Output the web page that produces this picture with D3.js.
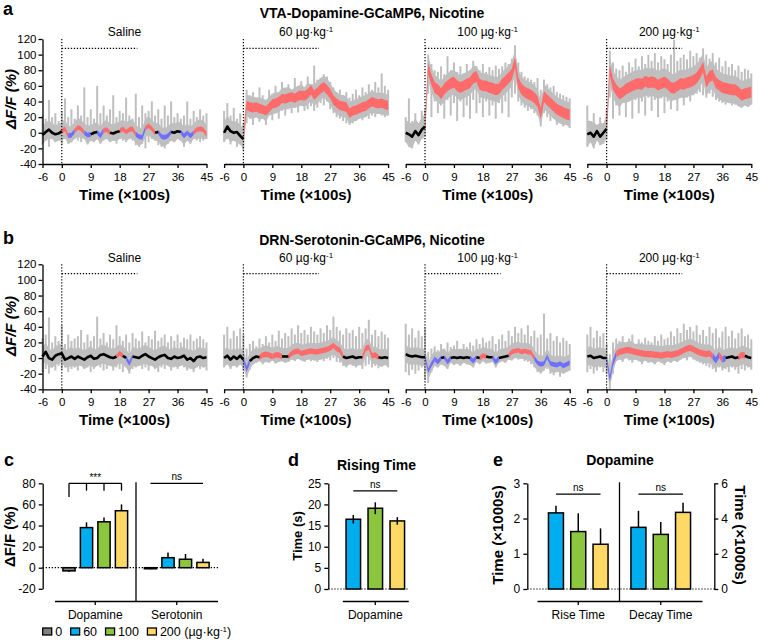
<!DOCTYPE html>
<html><head><meta charset="utf-8">
<script src="https://cdn.jsdelivr.net/npm/d3@7"></script>
<style>
body{margin:0;background:#fff;}
svg{display:block;font-family:"Liberation Sans",Arial,Helvetica,sans-serif;}
</style></head><body>
<svg id="fig" width="760" height="640"></svg>
<script>
// ---------------- DATA ----------------
const traceTimes = d3.range(-6, 46);            // sample times, ×100 s
const doseLabels = ["Saline", "60", "100", "200"];
const timeTicks = [-6, 0, 9, 18, 27, 36, 45];
const dffTicks = [-40, -20, 0, 20, 40, 60, 80, 100, 120];

// VTA dopamine, saline
const daSalineMean = [-3,1,4,0,-2,-1,2,5,-4,-3, 2,7,5,0,-3,-2,0,1,-4,3, 4,0,-1,1,2,5,1,4,5,-2, -5,-6,6,9,5,0,1,-5,-6,-4, 1,0,2,1,-4,0,-4,0,4,5, 4,-2];
const daSalineHi = [22,18,42,20,25,15,28,44,20,30, 18,35,22,58,20,30,18,60,25,35, 22,30,48,20,28,25,45,22,18,50, 20,35,25,28,40,22,30,18,35,22, 40,20,25,18,22,40,18,28,20,30, 22,25];
const daSalineLo = [-15,-10,-18,-8,-12,-10,-15,-8,-14,-12, -8,-10,-12,-8,-15,-10,-12,-8,-14,-10, -8,-12,-10,-14,-8,-10,-12,-8,-10,-16, -18,-14,-20,-12,-8,-10,-16,-18,-20,-14, -10,-12,-8,-10,-18,-10,-14,-8,-10,-12, -10,-8];
const daSalineSig = "kkkkkkkrbb" + "krrkbkkkbk" + "rkkkkrkrrk" + "bbrrrkkbbb" + "kkkkbkbkrr" + "rk";
// VTA dopamine, 60
const da60Mean = [0,8,2,0,1,-4,-8,35,33,32, 33,31,30,28,32,37,38,40,44,43, 45,46,44,47,48,47,50,55,48,52, 56,59,55,50,42,38,35,34,33,25, 28,29,31,33,34,37,40,38,37,38, 36,35];
const da60Hi = [28,38,22,32,18,25,12,55,48,52, 45,58,48,42,55,50,60,52,65,58, 62,55,70,60,66,58,72,62,86,68, 70,75,72,65,58,52,55,48,52,45, 50,55,48,58,52,62,55,65,58,76, 60,55];
const da60Lo = [-12,-8,-15,-10,-18,-15,-22,12,18,10, 20,14,18,10,22,16,25,18,28,22, 30,25,32,26,35,28,30,34,28,32, 38,35,40,30,25,20,18,15,12,10, 12,15,18,16,20,18,22,20,24,22, 20,22];
const da60Sig = "kkkkkkkrrr" + "rrrrrrrrrr" + "rrrrrrrrrr" + "rrrrrrrrrr" + "rrrrrrrrrr" + "rr";
// VTA dopamine, 100
const da100Mean = [0,-2,-5,2,-3,4,8,82,68,58, 55,50,56,60,63,65,60,58,60,62, 64,70,72,62,60,60,58,57,55,56, 62,66,70,75,90,64,56,52,50,48, 45,40,25,46,42,38,34,30,28,26, 24,23];
const da100Hi = [20,44,15,25,12,28,30,100,88,80, 78,85,75,98,80,90,78,85,76,88, 80,92,85,80,88,78,84,80,86,82, 85,90,88,95,112,90,78,72,70,68, 65,70,55,68,62,58,60,52,50,48, 46,44];
const da100Lo = [-12,-18,-20,-10,-15,-8,-5,50,20,40, 25,35,18,42,22,38,15,40,20,35, 18,42,25,38,20,40,22,35,18,38, 25,40,20,45,50,40,35,32,28,30, 25,22,8,25,20,15,18,10,12,8, 10,6];
const da100Sig = da60Sig;
// VTA dopamine, 200
const da200Mean = [-2,0,-5,2,-5,0,5,80,62,55, 50,52,56,58,60,62,63,62,66,64, 65,64,61,63,65,62,58,57,60,63, 62,64,65,67,70,76,84,65,72,74, 64,61,58,57,56,55,55,52,48,50, 51,52];
const da200Hi = [35,15,25,10,20,12,30,105,90,82, 80,86,78,90,84,95,85,98,88,100, 92,102,90,98,94,88,100,119,92,96, 100,94,105,98,102,96,108,100,95,102, 90,96,85,92,84,88,80,86,78,82, 80,76];
const da200Lo = [-18,-12,-20,-10,-16,-14,-8,45,18,35, 22,38,20,40,18,42,25,40,22,45, 28,42,20,44,25,40,30,42,28,45, 35,45,40,48,50,52,48,45,50,46, 42,40,38,36,38,35,36,34,32,35, 33,36];
const da200Sig = da60Sig;
const daSem = [3, 6, 7, 7];
const daCore = [12, 14, 16, 18];

// DRN serotonin, saline
const htSalineMean = [2,8,0,-2,3,5,6,-2,0,2, -1,2,0,-2,1,3,-1,0,4,5, 3,1,0,2,6,3,0,-7,2,1, 0,3,5,2,0,-2,1,3,4,0, -1,2,0,1,3,-2,0,-4,1,2, 0,1];
const htSalineHi = [25,30,52,20,28,22,42,18,30,22, 25,28,36,20,30,22,28,53,25,32, 20,30,24,42,28,22,30,20,32,25, 22,34,20,28,24,35,22,26,30,20, 28,22,30,20,26,24,30,22,25,28, 24,20];
const htSalineLo = [-18,-14,-20,-12,-16,-10,-15,-12,-18,-14, -12,-16,-10,-14,-12,-18,-14,-10,-12,-16, -14,-10,-16,-12,-14,-18,-12,-20,-14,-12, -10,-14,-12,-16,-10,-14,-18,-12,-14,-10, -16,-12,-14,-10,-12,-16,-14,-18,-12,-14, -12,-16];
const htSalineSig = "kkkkkkkkkk" + "kkkkkkkkkk" + "kkkkrkkbkk" + "kkkkkkkkkk" + "kkkkkkkkkk" + "kk";
// DRN serotonin, 60
const ht60Mean = [0,3,-2,2,-1,3,-2,-14,-4,0, 2,1,4,5,4,2,4,4,2,2, 2,6,8,9,6,7,8,9,8,8, 9,10,11,13,16,12,10,2,0,1, 2,0,1,1,12,14,3,4,1,0, 1,0];
const ht60Hi = [30,40,25,35,28,38,30,12,18,22, 15,25,18,28,20,30,22,35,25,32, 28,38,30,42,32,36,30,40,34,30, 38,32,42,36,53,40,35,30,38,32, 36,28,40,32,38,49,30,36,28,34, 30,26];
const ht60Lo = [-12,-8,-14,-10,-12,-8,-15,-25,-15,-8, -6,-4,-8,-5,-6,-3,-7,-5,-4,-6, -5,-2,-4,-1,-3,-5,-2,-4,-3,-5, -2,-4,-1,-3,0,-5,-6,-10,-12,-8, -10,-12,-9,-14,-10,-8,-12,-10,-13,-11, -9,-12];
const ht60Sig = "kkkkkkkbkk" + "kkrrrkrrkk" + "krrrrrrrrr" + "rrrrrrrkkk" + "kkkkrrkrkk" + "kk";
// DRN serotonin, 100
const ht100Mean = [5,3,2,3,2,1,1,-16,-8,-1, -5,0,1,-5,0,1,0,1,0,1, 0,-4,1,0,3,2,1,1,-5,0, 1,2,3,8,9,10,8,9,8,7, 0,-6,-8,-7,2,-7,-8,-9,-7,-10, -8,-6];
const ht100Hi = [44,30,38,26,35,28,40,8,12,15, 10,18,12,20,14,16,22,12,18,14, 20,16,24,18,26,20,22,28,18,24, 30,22,35,28,40,32,38,30,42,28, 35,26,30,57,25,32,22,28,20,26, 22,18];
const ht100Lo = [-18,-22,-15,-20,-16,-12,-28,-32,-18,-10, -12,-8,-10,-14,-6,-9,-7,-10,-6,-8, -9,-12,-5,-8,-4,-7,-6,-5,-12,-6, -4,-6,-2,-3,0,-2,-1,-4,-5,-8, -12,-18,-20,-16,-14,-20,-22,-18,-24,-20, -18,-16];
const ht100Sig = "kkkkkkkbbk" + "bkkbkkkkkk" + "kbkkrkkkbk" + "kkkrrrrrrr" + "kbbbkbbbbb" + "bb";
// DRN serotonin, 200
const ht200Mean = [2,3,0,1,2,0,0,-26,-6,5, 8,9,10,10,9,8,7,6,5,5, 5,4,4,3,4,5,4,5,6,8, 10,12,13,11,9,7,6,5,6,2, -3,4,-2,0,1,2,0,1,4,3, 1,0];
const ht200Hi = [30,40,26,35,28,32,18,5,20,25, 22,28,20,25,30,18,24,20,26,22, 20,28,22,30,24,26,34,28,38,32, 44,36,40,34,42,30,36,28,40,32, 38,26,34,40,28,35,25,32,38,28, 30,24];
const ht200Lo = [-18,-14,-20,-16,-12,-18,-20,-40,-20,-4, -2,-5,0,-3,-6,-2,-4,-8,-3,-6, -5,-8,-4,-6,-9,-4,-6,-3,-5,-2, 0,-3,2,-2,-4,-6,-8,-10,-12,-14, -18,-12,-16,-14,-18,-12,-15,-20,-14,-16, -12,-15];
const ht200Sig = "kkkkkkkbbr" + "rrrrrrrrrr" + "rrrrrrrrrr" + "rrrrrrrrrk" + "brbkkkkkrk" + "kk";
const htSem = [3, 3.5, 3, 4];
const htCore = [12, 11, 11, 12];

// Panel c
const doses = ["0", "60", "100", "200"];
const cGroups = ["Dopamine", "Serotonin"];
const cDopamine = [-3, 38, 43.5, 54];
const cDopamineErr = [1, 5, 4.2, 6];
const cSerotonin = [-1, 9.5, 8, 5];
const cSerotoninErr = [0.5, 5, 5, 3.5];
const cTicks = [-20, 0, 20, 40, 60, 80];
// Panel d
const dDoses = ["60", "100", "200"];
const dRise = [16.5, 19.1, 16.1];
const dRiseErr = [1.0, 1.4, 0.9];
const dTicks = [0, 5, 10, 15, 20, 25];
// Panel e
const eGroups = ["Rise Time", "Decay Time"];
const eRise = [2.16, 1.63, 1.27];
const eRiseErr = [0.2, 0.52, 0.45];
const eDecay = [3.5, 3.1, 4.35];
const eDecayErr = [0.94, 0.7, 0.55];
const eLeftTicks = [0, 1, 2, 3];
const eRightTicks = [0, 2, 4, 6];

// ---------------- DRAWING ----------------
const svg = d3.select("#fig");
const GRAYT = "#bfbfbf", RED = "#ff6b6b", BLUE = "#6e6eff";
const doseFill = {"0": "#808080", "60": "#00aeef", "100": "#8cc63f", "200": "#ffd966"};
const fmt = d => String(d);

function styleAxis(g, fs) {
  g.selectAll(".domain").attr("stroke", "#000").attr("stroke-width", 1.3);
  g.selectAll(".tick line").attr("stroke", "#000").attr("stroke-width", 1.3);
  g.selectAll(".tick text").attr("fill", "#000").attr("font-size", fs)
    .attr("font-family", '"Liberation Sans",Arial,sans-serif');
}
function text(x, y, s, o = {}) {
  const t = svg.append("text").attr("x", x).attr("y", y).text(s)
    .attr("font-size", o.size || 12).attr("text-anchor", o.anchor || "middle")
    .attr("font-weight", o.bold ? "bold" : "normal").attr("fill", "#000");
  if (o.italic) t.attr("font-style", "italic");
  if (o.rotate) t.attr("transform", `rotate(${o.rotate},${x},${y})`);
  return t;
}
function supTail(t, size) {
  t.append("tspan").attr("dy", -4).attr("font-size", size).text("-1");
}

const rows = [
  {top: 39, bottom: 164, title: "VTA-Dopamine-GCaMP6, Nicotine", titleY: 18, subY: 36, xlabY: 200,
   letter: "a", letterY: 15, ylabY: 99, sem: daSem, core: daCore,
   data: [
     {mean: daSalineMean, hi: daSalineHi, lo: daSalineLo, sig: daSalineSig},
     {mean: da60Mean, hi: da60Hi, lo: da60Lo, sig: da60Sig},
     {mean: da100Mean, hi: da100Hi, lo: da100Lo, sig: da100Sig},
     {mean: da200Mean, hi: da200Hi, lo: da200Lo, sig: da200Sig}]},
  {top: 264.3, bottom: 389.3, title: "DRN-Serotonin-GCaMP6, Nicotine", titleY: 245, subY: 261.5, xlabY: 425,
   letter: "b", letterY: 244, ylabY: 326, sem: htSem, core: htCore,
   data: [
     {mean: htSalineMean, hi: htSalineHi, lo: htSalineLo, sig: htSalineSig},
     {mean: ht60Mean, hi: ht60Hi, lo: ht60Lo, sig: ht60Sig},
     {mean: ht100Mean, hi: ht100Hi, lo: ht100Lo, sig: ht100Sig},
     {mean: ht200Mean, hi: ht200Hi, lo: ht200Lo, sig: ht200Sig}]}
];

rows.forEach(row => {
  text(3, row.letterY, row.letter, {size: 18, bold: true, anchor: "start"});
  text(372, row.titleY, row.title, {size: 14, bold: true});
  text(15.5, row.ylabY, "ΔF/F (%)", {size: 15, bold: true, italic: true, rotate: -90});
  row.data.forEach((s, k) => {
    const x0 = 42.5 + k * 181.6;
    const x = d3.scaleLinear().domain([-6, 45]).range([x0, x0 + 164]);
    const y = d3.scaleLinear().domain([-40, 120]).range([row.bottom, row.top]);
    const sem = row.sem[k], core = row.core[k];
    const n = s.mean.length;
    const g = svg.append("g");
    // gray: solid core band + spikes to the envelope
    g.append("path").datum(d3.range(n))
      .attr("d", d3.area().x(i => x(traceTimes[i]))
        .y0(i => y(Math.max(s.lo[i], s.mean[i] - core)))
        .y1(i => y(Math.min(s.hi[i], s.mean[i] + core))))
      .attr("fill", GRAYT);
    g.append("g").selectAll("line").data(d3.range(n)).join("line")
      .attr("x1", i => x(traceTimes[i])).attr("x2", i => x(traceTimes[i]))
      .attr("y1", i => y(s.lo[i])).attr("y2", i => y(s.hi[i]))
      .attr("stroke", GRAYT).attr("stroke-width", 2);
    const runs = [];
    let st = 0;
    for (let i = 1; i <= n; i++) {
      if (i === n || s.sig[i] !== s.sig[st]) { runs.push([st, i - 1, s.sig[st]]); st = i; }
    }
    runs.filter(r => r[2] !== "k").forEach(([a, b, c]) => {
      const lo = (a > 0 && s.sig[a - 1] === "k") ? a - 1 : a;
      const hi = Math.min(b + 1, n - 1);
      g.append("path").datum(d3.range(lo, hi + 1))
        .attr("d", d3.area().x(i => x(traceTimes[i])).y0(i => y(s.mean[i] - sem)).y1(i => y(s.mean[i] + sem)))
        .attr("fill", c === "r" ? RED : BLUE);
    });
    runs.filter(r => r[2] === "k" && r[1] > r[0]).forEach(([a, b]) => {
      g.append("path").datum(d3.range(a, b + 1))
        .attr("d", d3.line().x(i => x(traceTimes[i])).y(i => y(s.mean[i])))
        .attr("fill", "none").attr("stroke", "#000").attr("stroke-width", 2.6)
        .attr("stroke-linejoin", "round");
    });
    // dotted markers
    g.append("line").attr("x1", x(0)).attr("x2", x(0)).attr("y1", y(120)).attr("y2", y(-40))
      .attr("stroke", "#000").attr("stroke-width", 1.2).attr("stroke-dasharray", "1.3,1.7");
    g.append("line").attr("x1", x(0)).attr("x2", x(23.5)).attr("y1", y(108)).attr("y2", y(108))
      .attr("stroke", "#000").attr("stroke-width", 1.2).attr("stroke-dasharray", "1.3,1.7");
    // axes
    const ax = g.append("g").attr("transform", `translate(0,${row.bottom})`)
      .call(d3.axisBottom(x).tickValues(timeTicks).tickSize(4).tickPadding(5).tickSizeOuter(0).tickFormat(fmt));
    styleAxis(ax, 11.5);
    if (k === 0) {
      const ay = g.append("g").attr("transform", `translate(${x0},0)`)
        .call(d3.axisLeft(y).tickValues(dffTicks).tickSize(4).tickPadding(2).tickSizeOuter(0).tickFormat(fmt));
      styleAxis(ay, 11.5);
    }
    const cx = x0 + 82;
    const sub = text(cx, row.subY, doseLabels[k] === "Saline" ? "Saline" : doseLabels[k] + " µg·kg", {size: 12});
    if (doseLabels[k] !== "Saline") supTail(sub, 8);
    text(cx, row.xlabY, "Time (×100s)", {size: 15, bold: true});
  });
});

// bar helper
function drawBars(xc, inner, y, vals, errs, keys, mode) {
  vals.forEach((v, i) => {
    const bx = xc + inner(keys[i]);
    const bw = inner.bandwidth();
    const y0 = y(0), y1 = y(v);
    const e = errs[i];
    const tip = v >= 0 ? y(v + e) : y(v - e);
    svg.append("line").attr("x1", bx + bw / 2).attr("x2", bx + bw / 2).attr("y1", y1).attr("y2", tip)
      .attr("stroke", "#000").attr("stroke-width", 1.5);
    svg.append("rect").attr("x", bx).attr("width", bw)
      .attr("y", Math.min(y0, y1)).attr("height", Math.abs(y1 - y0))
      .attr("fill", doseFill[keys[i]]).attr("stroke", "#000").attr("stroke-width", 1.5);
    if (mode === "sym") {
      svg.append("line").attr("x1", bx + bw / 2).attr("x2", bx + bw / 2).attr("y1", y(v - e)).attr("y2", y1)
        .attr("stroke", "#000").attr("stroke-width", 1.5);
    }
  });
}
function hline(x1, x2, yy, w = 1.3, dash) {
  const l = svg.append("line").attr("x1", x1).attr("x2", x2).attr("y1", yy).attr("y2", yy)
    .attr("stroke", "#000").attr("stroke-width", w);
  if (dash) l.attr("stroke-dasharray", dash);
  return l;
}
function vline(xx, y1, y2, w = 1.3) {
  return svg.append("line").attr("x1", xx).attr("x2", xx).attr("y1", y1).attr("y2", y2)
    .attr("stroke", "#000").attr("stroke-width", w);
}

// ---------------- Panel c ----------------
{
  text(4, 466, "c", {size: 18, bold: true, anchor: "start"});
  const y = d3.scaleLinear().domain([-20, 80]).range([588.8, 483.3]);
  const gx = d3.scaleBand().domain(cGroups).range([54.5, 217.5]);
  const inner = d3.scaleBand().domain(doses).range([-35, 35]).paddingInner(0.3).paddingOuter(0.15);
  hline(42.7, 218.3, y(0), 1.2, "1.3,1.7");
  const c0 = gx("Dopamine") + gx.bandwidth() / 2, c1 = gx("Serotonin") + gx.bandwidth() / 2;
  drawBars(c0, inner, y, cDopamine, cDopamineErr, doses, "up");
  drawBars(c1, inner, y, cSerotonin, cSerotoninErr, doses, "up");
  const ay = svg.append("g").attr("transform", "translate(42.7,0)")
    .call(d3.axisLeft(y).tickValues(cTicks).tickSize(4).tickPadding(3).tickSizeOuter(0).tickFormat(fmt));
  styleAxis(ay, 12);
  const ax = svg.append("g").attr("transform", "translate(0,601)")
    .call(d3.axisBottom(gx).tickSize(4).tickPadding(5).tickSizeOuter(0));
  styleAxis(ax, 12);
  vline(gx("Serotonin"), y(80) - 1, 601);
  // significance
  const m = k => inner(k) + inner.bandwidth() / 2;
  hline(c0 + m("0"), c0 + m("200"), y(80));
  vline(c0 + m("0"), y(80), y(67));
  ["60", "100", "200"].forEach(k => vline(c0 + m(k), y(80), y(73)));
  text(c0, y(80) - 2.5, "***", {size: 10});
  hline(c1 + m("0"), c1 + m("200"), y(80));
  text(c1, y(80) - 3, "ns", {size: 10});
  text(15.5, 536.7, "ΔF/F (%)", {size: 15, bold: true, rotate: -90});
  // legend
  let lx = 42.7;
  const ly = 631.5;
  doses.forEach((k, i) => {
    svg.append("rect").attr("x", lx).attr("y", ly - 3.5).attr("width", 9).attr("height", 7)
      .attr("fill", doseFill[k]).attr("stroke", "#000").attr("stroke-width", 1.3);
    const t = text(lx + 12.5, ly + 4.3, k === "200" ? "200 (µg·kg" : k, {size: 12.5, anchor: "start"});
    if (k === "200") { supTail(t, 8); t.append("tspan").attr("dy", 4).text(")"); }
    lx += 12.5 + t.node().getComputedTextLength() + 8.5;
  });
}

// ---------------- Panel d ----------------
{
  text(288, 466, "d", {size: 18, bold: true, anchor: "start"});
  text(376.5, 470, "Rising Time", {size: 14, bold: true});
  const y = d3.scaleLinear().domain([0, 25]).range([589, 483.3]);
  const gx = d3.scaleBand().domain(["Dopamine"]).range([342.3, 408.3]);
  const inner = d3.scaleBand().domain(dDoses).range([-33, 33]).paddingInner(0.34).paddingOuter(0.17);
  const c0 = gx("Dopamine") + gx.bandwidth() / 2;
  hline(328.3, 408.3, y(0), 1.2, "1.3,1.7");
  drawBars(c0, inner, y, dRise, dRiseErr, dDoses, "sym");
  const ay = svg.append("g").attr("transform", "translate(328.3,0)")
    .call(d3.axisLeft(y).tickValues(dTicks).tickSize(4).tickPadding(3).tickSizeOuter(0).tickFormat(fmt));
  styleAxis(ay, 12);
  const ax = svg.append("g").attr("transform", "translate(0,601)")
    .call(d3.axisBottom(gx).tickSize(4).tickPadding(5).tickSizeOuter(0));
  styleAxis(ax, 12);
  const m = k => inner(k) + inner.bandwidth() / 2;
  hline(c0 + m("60"), c0 + m("200"), y(23.2));
  text(c0, y(23.2) - 3, "ns", {size: 10});
  text(301.5, 536, "Time (s)", {size: 13, bold: true, rotate: -90});
}

// ---------------- Panel e ----------------
{
  text(493, 466, "e", {size: 18, bold: true, anchor: "start"});
  text(620, 465, "Dopamine", {size: 14, bold: true});
  const yl = d3.scaleLinear().domain([0, 3]).range([589, 483.3]);
  const yr = d3.scaleLinear().domain([0, 6]).range([589, 483.3]);
  const gx = d3.scaleBand().domain(eGroups).range([537, 702]);
  const inner = d3.scaleBand().domain(dDoses).range([-33.5, 33.5]).paddingInner(0.327).paddingOuter(0.166);
  const c0 = gx("Rise Time") + gx.bandwidth() / 2, c1 = gx("Decay Time") + gx.bandwidth() / 2;
  hline(527.3, 714.3, yl(0), 1.2, "1.3,1.7");
  drawBars(c0, inner, yl, eRise, eRiseErr, dDoses, "up");
  drawBars(c1, inner, yr, eDecay, eDecayErr, dDoses, "up");
  const ayl = svg.append("g").attr("transform", "translate(527.3,0)")
    .call(d3.axisLeft(yl).tickValues(eLeftTicks).tickSize(4).tickPadding(3).tickSizeOuter(0).tickFormat(fmt));
  styleAxis(ayl, 12);
  const ayr = svg.append("g").attr("transform", "translate(714.3,0)")
    .call(d3.axisRight(yr).tickValues(eRightTicks).tickSize(4).tickPadding(3).tickSizeOuter(0).tickFormat(fmt));
  styleAxis(ayr, 12);
  const ax = svg.append("g").attr("transform", "translate(0,601)")
    .call(d3.axisBottom(gx).tickSize(4).tickPadding(5).tickSizeOuter(0));
  styleAxis(ax, 12);
  vline(gx("Decay Time"), yl(3) - 1, 601);
  const m = k => inner(k) + inner.bandwidth() / 2;
  hline(c0 + m("60"), c0 + m("200"), yl(2.69));
  text(c0, yl(2.69) - 3, "ns", {size: 10});
  hline(c1 + m("60"), c1 + m("200"), yl(2.69));
  text(c1, yl(2.69) - 3, "ns", {size: 10});
  text(502.7, 535, "Time (×1000s)", {size: 15, bold: true, rotate: -90});
  text(735, 535, "Time (×1000s)", {size: 15, bold: true, rotate: 90});
}
</script></body></html>
